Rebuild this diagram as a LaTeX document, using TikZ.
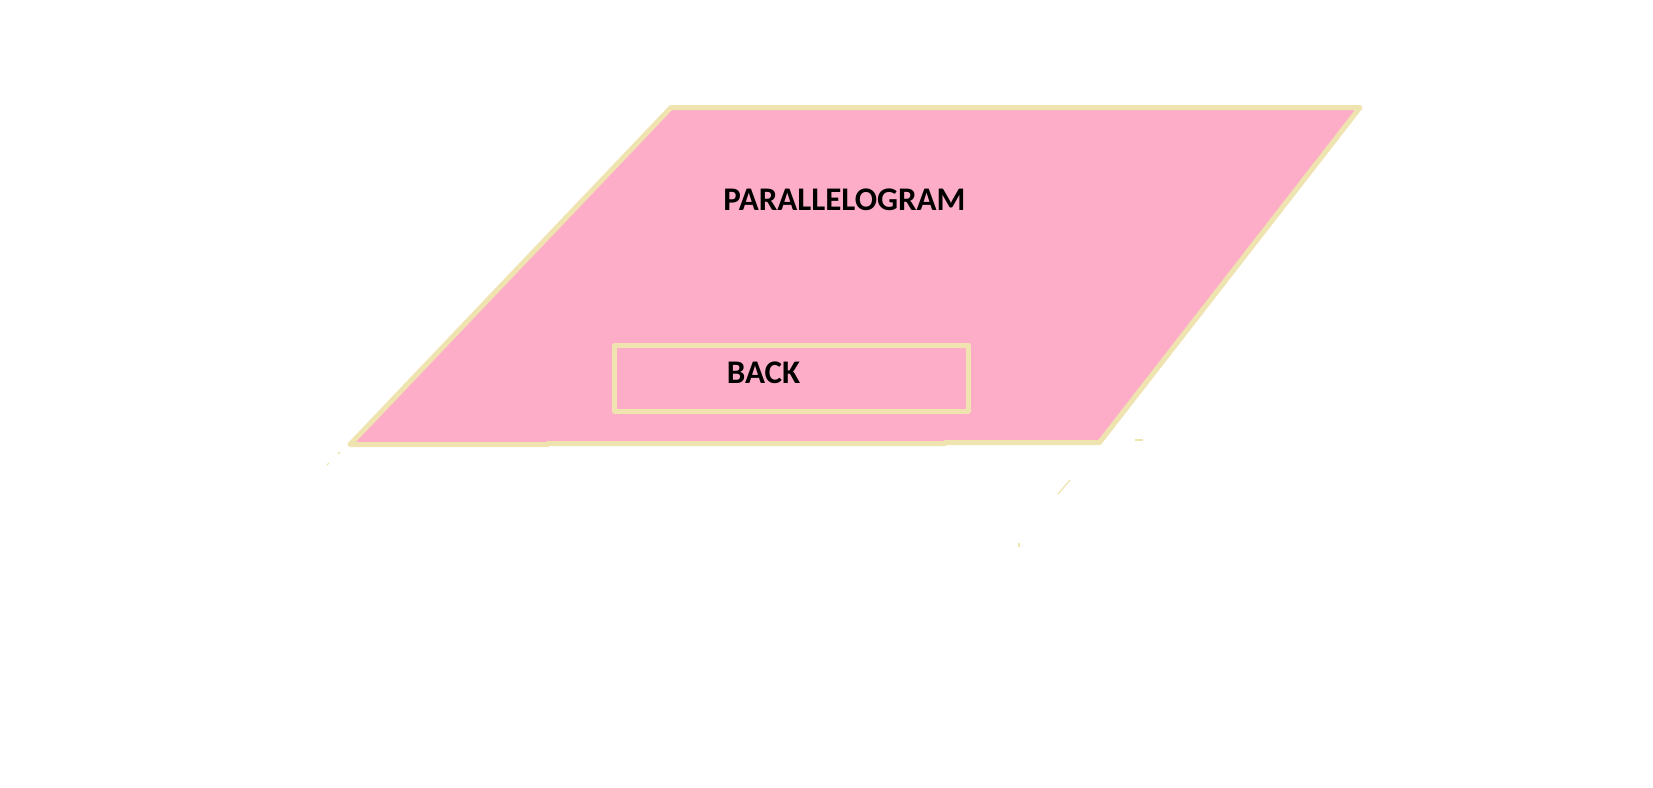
\documentclass[tikz,border=0pt]{standalone}
\usepackage{fontspec}
\setmainfont{Carlito}
\definecolor{pinkfill}{RGB}{254,173,201}
\definecolor{beige}{RGB}{239,227,176}
\tikzset{
  edge/.style={draw=beige, line width=5pt, line join=round},
  label/.style={font=\bfseries\fontsize{33}{38}\selectfont, text=black, anchor=base, inner sep=0pt},
  speck/.style={draw=beige, line width=1.2pt}
}
\begin{document}
\begin{tikzpicture}[x=1pt,y=-1pt]
\useasboundingbox (0,0) rectangle (1653,787);
\fill[white] (0,0) rectangle (1653,787);
\coordinate (tl) at (671,107.5);
\coordinate (tr) at (1360,107.5);
\coordinate (br) at (1099.5,442.5);
\coordinate (bl) at (350,444.5);
\fill[pinkfill] (tl) -- (tr) -- (br) -- (bl) -- cycle;
\draw[edge] (bl) -- (548,444.5) -- (548,443.5) -- (945,443.5) -- (945,442.5) -- (br) -- (tr) -- (tl) -- cycle;
\node[edge, minimum width=353.5pt, minimum height=65.5pt, inner sep=0pt] (backbox) at (791.25,378.25) {};
\node[label] (title) at (844.5,210.5) {PARALLELOGRAM};
\node[label] (back) at (763.5,383.5) {BACK};
\draw[speck] (1135,440) -- (1143,440);
\draw[speck] (1058,494) -- (1070,480);
\draw[speck] (1019,543) -- (1019,547);
\draw[speck] (327,465) -- (329,463);
\draw[speck] (338,454) -- (340,452);
\end{tikzpicture}
\end{document}
